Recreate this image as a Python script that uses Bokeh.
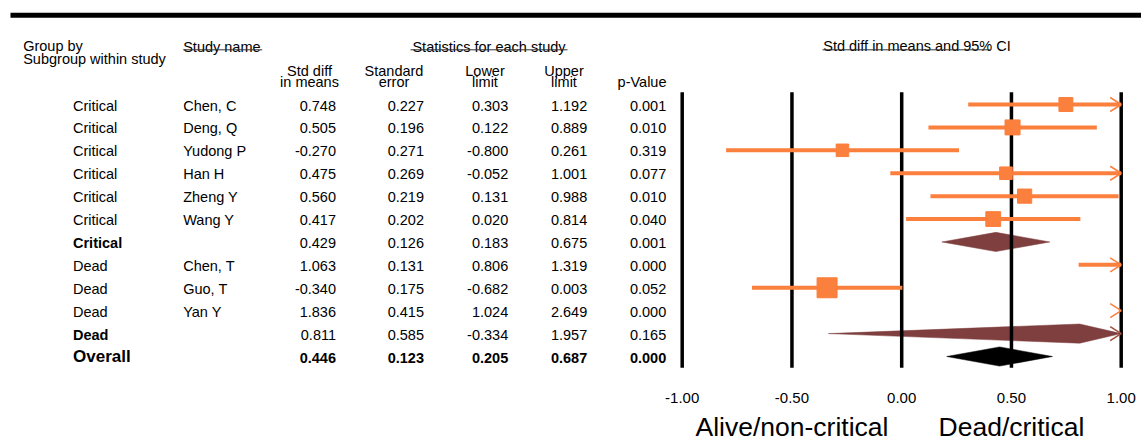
from bokeh.plotting import figure
from bokeh.models import Range1d, ColumnDataSource
from bokeh.core.properties import value
from bokeh.embed import file_html
from bokeh.resources import INLINE
import math

# ---------------- data ----------------
groups = ["Critical", "Critical", "Critical", "Critical", "Critical", "Critical", "Critical",
          "Dead", "Dead", "Dead", "Dead", "Overall"]
studies = ["Chen, C", "Deng, Q", "Yudong P", "Han H", "Zheng Y", "Wang Y", "",
           "Chen, T", "Guo, T", "Yan Y", "", ""]
row_kind = ["study"] * 6 + ["subtotal"] + ["study"] * 3 + ["subtotal", "overall"]
std_diff = [0.748, 0.505, -0.270, 0.475, 0.560, 0.417, 0.429, 1.063, -0.340, 1.836, 0.811, 0.446]
std_err = [0.227, 0.196, 0.271, 0.269, 0.219, 0.202, 0.126, 0.131, 0.175, 0.415, 0.585, 0.123]
lower = [0.303, 0.122, -0.800, -0.052, 0.131, 0.020, 0.183, 0.806, -0.682, 1.024, -0.334, 0.205]
upper = [1.192, 0.889, 0.261, 1.001, 0.988, 0.814, 0.675, 1.319, 0.003, 2.649, 1.957, 0.687]
p_value = [0.001, 0.010, 0.319, 0.077, 0.010, 0.040, 0.001, 0.000, 0.052, 0.000, 0.165, 0.000]
rel_weight = [16.8, 19.5, 13.6, 13.8, 17.4, 18.9, None, 35.1, 34.6, 30.3, None, None]

axis_ticks = [-1.0, -0.5, 0.0, 0.5, 1.0]
tick_labels = ["-1.00", "-0.50", "0.00", "0.50", "1.00"]
direction_labels = ["Alive/non-critical", "Dead/critical"]
direction_pos = [-0.5, 0.5]

col_headers = [("Std diff", "in means"), ("Standard", "error"), ("Lower", "limit"),
               ("Upper", "limit"), ("", "p-Value")]

# ---------------- layout helpers ----------------
W, H = 1141, 443
PX_X = 219.5          # pixels per unit on the effect axis
PX_Y = 22.91          # pixels per row
X_M1 = 681.7          # pixel x of -1.00
ROW0 = 104            # pixel y of first row centre


def dx(px):  # pixel x -> data x
    return (px - X_M1) / PX_X - 1.0


def dy(py):  # pixel y (from top) -> data y
    return -(py - ROW0) / PX_Y


FONT = value("Liberation Sans")
ORANGE = "#FB7F3D"
BROWN = "#7F3F3F"

p = figure(width=W, height=H, x_range=Range1d(dx(0), dx(W)), y_range=Range1d(dy(H), dy(0)),
           x_axis_location=None, y_axis_location=None, toolbar_location=None,
           output_backend="svg", min_border=0)
p.grid.visible = False
p.outline_line_color = None
p.background_fill_color = "white"
p.border_fill_color = "white"

n = len(groups)
rows = list(range(n))
ycent = [-i for i in rows]
txt_off = -1.0 / PX_Y


def txt(xs, ys, texts, align="left", size="14.5px", style="normal", color="black"):
    src = ColumnDataSource(dict(x=xs, y=ys, t=texts))
    p.text(x="x", y="y", text="t", source=src, text_font=FONT, text_font_size=size,
           text_font_style=style, text_align=align, text_baseline="middle", text_color=color)


# top rule
p.segment(x0=[dx(10)], y0=[dy(14.7)], x1=[dx(1141)], y1=[dy(14.7)], line_color="black", line_width=5)

# headers
txt([dx(22.7)], [dy(45.5)], ["Group by"])
txt([dx(22.7)], [dy(58.3)], ["Subgroup within study"])
txt([dx(182.7)], [dy(46.3)], ["Study name"])
txt([dx(488.5)], [dy(46.3)], ["Statistics for each study"], align="center")
txt([dx(916.5)], [dy(45.9)], ["Std diff in means and 95% CI"], align="center")
p.segment(x0=[dx(182.7), dx(410), dx(822)], y0=[dy(49.3)] * 3,
          x1=[dx(261.7), dx(567), dx(990)], y1=[dy(49.3)] * 3, line_color="#333333", line_width=1)

hdr_centers = [309, 393.5, 484.5, 563.5]
for c, (l1, l2) in zip(hdr_centers, col_headers[:4]):
    txt([dx(c)], [dy(70)], [l1], align="center")
    txt([dx(c)], [dy(81.3)], [l2], align="center")
txt([dx(666)], [dy(81.3)], [col_headers[4][1]], align="right")

# table body
right_edges = [335.5, 423.5, 507.7, 586.7, 665.7]
cols = [std_diff, std_err, lower, upper, p_value]
for i in rows:
    yb = ycent[i] + txt_off
    kind = row_kind[i]
    if kind == "study":
        txt([dx(72.5)], [yb], [groups[i]])
        txt([dx(182.7)], [yb], [studies[i]])
    elif kind == "subtotal":
        txt([dx(72.5)], [yb], [groups[i]], style="bold")
    else:
        txt([dx(72.5)], [ycent[i] + 0.4 / PX_Y], [groups[i]], style="bold", size="17px")
    st = "bold" if kind == "overall" else "normal"
    for re_, col in zip(right_edges, cols):
        txt([dx(re_)], [yb], ["%.3f" % col[i]], align="right", style=st)

# diamonds (subtotals / overall)
dh = 9.6 / PX_Y
xs_d, ys_d, cols_d = [], [], []
arrow_xs, arrow_ys, arrow_cols = [], [], []
ahx = 11 / PX_X
ahy = 7 / PX_Y
for i in rows:
    if row_kind[i] == "study":
        continue
    y = ycent[i]
    lo, es, up = lower[i], std_diff[i], upper[i]
    col = "black" if row_kind[i] == "overall" else BROWN
    if up > 1.0:
        xs_d.append([max(lo, -1.0), es, 1.0, es])
        arrow_xs.append([1.0 - ahx, 1.0, 1.0 - ahx])
        arrow_ys.append([y + ahy, y, y - ahy])
        arrow_cols.append("#A0503C")
    else:
        xs_d.append([max(lo, -1.0), es, up, es])
    ys_d.append([y, y + dh, y, y - dh])
    cols_d.append(col)
p.patches(xs=xs_d, ys=ys_d, fill_color=cols_d, line_color=cols_d, line_width=0.5)

# reference lines
vy0, vy1 = dy(91.7), dy(367.3)
p.segment(x0=axis_ticks, y0=[vy0] * 5, x1=axis_ticks, y1=[vy1] * 5, line_color="black", line_width=3.5)

# study CIs
seg_x0, seg_x1, seg_y = [], [], []
sq_x, sq_y, sq_s = [], [], []
for i in rows:
    if row_kind[i] != "study":
        continue
    y = ycent[i]
    lo, es, up = lower[i], std_diff[i], upper[i]
    if lo < 1.0 and up > -1.0:
        seg_x0.append(max(lo, -1.0))
        seg_x1.append(min(up, 1.0))
        seg_y.append(y)
    if -1.0 <= es <= 1.0:
        sq_x.append(es)
        sq_y.append(y)
        sq_s.append(3.4 * math.sqrt(rel_weight[i]))
    if up > 1.0:
        arrow_xs.append([1.0 - ahx, 1.0, 1.0 - ahx])
        arrow_ys.append([y + ahy, y, y - ahy])
        arrow_cols.append(ORANGE)

p.segment(x0=seg_x0, y0=seg_y, x1=seg_x1, y1=seg_y, line_color=ORANGE, line_width=4)
p.multi_line(xs=arrow_xs, ys=arrow_ys, line_color=arrow_cols, line_width=1.6)
p.scatter(x=sq_x, y=sq_y, size=sq_s, marker="square", fill_color=ORANGE, line_color=ORANGE)

# tick labels and direction labels
txt(axis_ticks, [dy(397)] * 5, tick_labels, align="center", size="15px")
txt(direction_pos, [dy(426.2)] * 2, direction_labels, align="center", size="26.5px")

open("out.html", "w").write(file_html(p, INLINE))
